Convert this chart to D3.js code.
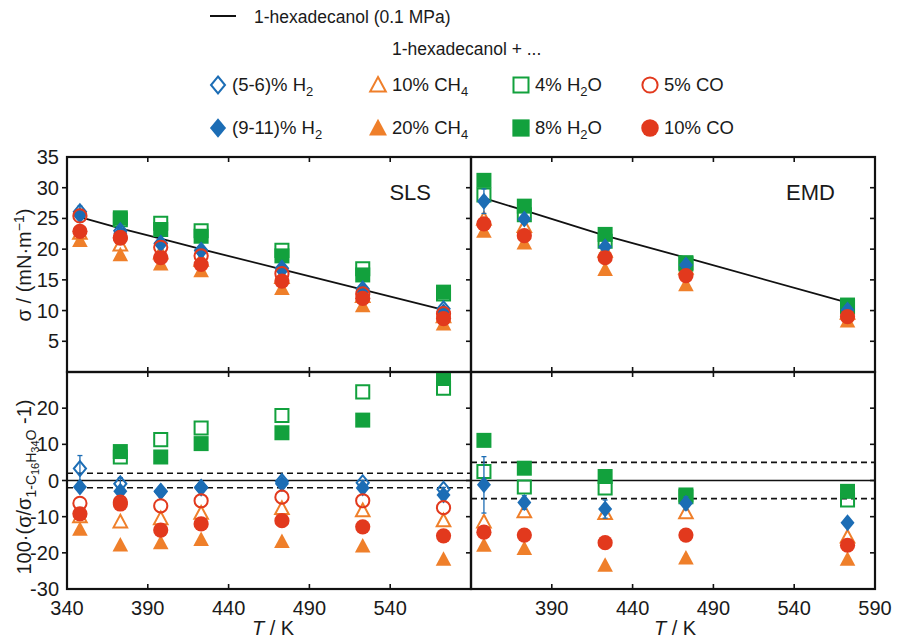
<!DOCTYPE html>
<html>
<head>
<meta charset="utf-8">
<script src="https://cdn.jsdelivr.net/npm/d3@7"></script>
<style>
  body { margin: 0; background: #fff; }
  text { font-family: 'Liberation Sans', Arial, sans-serif; fill: #1a1a1a; }
</style>
</head>
<body>
<svg id="chart" width="899" height="640"></svg>
<script>
// temperatures, K
const slsT = [348, 373, 398, 423, 473, 523, 573]
const emdT = [348, 373, 423, 473, 573]

// pure 1-hexadecanol reference, mN/m
const slsRef = [25.2, 23.4, 21.7, 20.0, 16.7, 13.4, 10.1]
const emdRef = [28.3, 26.3, 22.2, 18.6, 11.3]

// SLS surface tension, mN/m
const slsH2Low = [26.1, 23.0, 20.9, 19.8, 16.9, 13.5, 10.3]
const slsH2LowErr = [0.9, 0.4, 0.2, 0.2, 0.2, 0.2, 0.1]
const slsH2High = [25.5, 22.6, 21.0, 19.7, 16.6, 13.2, 9.8]
const slsCH4Low = [22.6, 20.7, 19.4, 18.2, 15.4, 12.3, 9.0]
const slsCH4High = [21.4, 19.1, 17.6, 16.5, 13.6, 10.8, 7.8]
const slsH2OLow = [null, 24.8, 24.2, 23.0, 19.8, 16.8, 12.7]
const slsH2OHigh = [null, 25.1, 23.2, 22.1, 18.9, 15.8, 13.0]
const slsCOLow = [25.4, 21.9, 20.3, 18.9, 16.0, 12.7, 9.5]
const slsCOHigh = [22.9, 21.8, 18.6, 17.5, 14.8, 12.0, 8.7]

// SLS relative deviation, %
const slsDevH2Low = [3.3, -0.9, -3.0, -2.0, -0.3, -0.6, -2.4]
const slsDevH2LowErr = [3.6, 1.7, 0.6, 0.8, 0.6, 0.6, 0.5]
const slsDevH2High = [-1.8, -3.0, -3.1, -1.8, -0.9, -2.1, -4.0]
const slsDevCH4Low = [-10.0, -11.4, -10.5, -9.0, -7.7, -8.3, -11.1]
const slsDevCH4High = [-13.5, -17.8, -17.2, -16.3, -16.9, -18.1, -21.8]
const slsDevH2OLow = [null, 6.5, 11.3, 14.5, 18.0, 24.5, 25.5]
const slsDevH2OHigh = [null, 8.0, 6.5, 10.2, 13.2, 16.7, 28.2]
const slsDevCOLow = [-6.3, -6.0, -7.0, -5.6, -4.6, -5.6, -7.5]
const slsDevCOHigh = [-9.2, -6.5, -13.7, -12.0, -11.1, -12.8, -15.3]

// EMD surface tension, mN/m
const emdH2High = [27.8, 24.9, 20.4, 17.4, 10.1]
const emdH2HighErr = [2.0, 0.5, 0.6, 0.4, 0.1]
const emdCH4Low = [24.9, 23.7, 19.7, 16.9, 9.6]
const emdCH4High = [22.9, 21.0, 16.7, 14.2, 8.3]
const emdH2OLow = [28.8, 25.6, 21.3, 17.6, 10.6]
const emdH2OHigh = [31.2, 27.0, 22.4, 17.8, 10.9]
const emdCOHigh = [24.1, 22.2, 18.6, 15.7, 9.0]

// EMD relative deviation, %
const emdDevH2High = [-1.2, -6.1, -7.9, -6.3, -11.7]
const emdDevH2HighErr = [7.8, 1.9, 2.5, 1.8, 0.4]
const emdDevCH4Low = [-11.4, -8.6, -9.1, -8.9, -15.6]
const emdDevCH4High = [-17.9, -18.8, -23.4, -21.4, -21.8]
const emdDevH2OLow = [2.5, -1.8, -2.1, -4.5, -5.4]
const emdDevH2OHigh = [11.1, 3.4, 1.1, -4.0, -3.0]
const emdDevCOHigh = [-14.3, -15.1, -17.2, -15.1, -17.9]

const BLUE = '#1c6db5'
const ORANGE = '#ef7f2a'
const GREEN = '#12a13d'
const RED = '#e2391d'

const svg = d3.select('#chart')
const xLeft = d3.scaleLinear().domain([340, 590]).range([67, 471])
const xRight = d3.scaleLinear().domain([340, 590]).range([471, 875])
const yTop = d3.scaleLinear().domain([0, 35]).range([372, 157])
const yBot = d3.scaleLinear().domain([-30, 30]).range([589, 372])

/** path of a marker centred on 0,0 */
function markerPath (shape, filled, scale = 1) {
  const p = d3.path()
  const k = (filled ? 1 : 0.87) * scale
  if (shape === 'diamond') {
    p.moveTo(0, -8.5 * k); p.lineTo(7 * k, 0); p.lineTo(0, 8.5 * k); p.lineTo(-7 * k, 0)
  } else if (shape === 'triangle') {
    p.moveTo(0, -8 * k); p.lineTo(7.8 * k, 6.5 * k); p.lineTo(-7.8 * k, 6.5 * k)
  } else if (shape === 'square') {
    p.rect(-7.5 * k, -7.5 * k, 15 * k, 15 * k)
  } else {
    p.arc(0, 0, 7.6 * k, 0, 2 * Math.PI)
  }
  p.closePath()
  return p.toString()
}

function drawMarker (g, shape, color, filled, x, y, scale = 1) {
  g.append('path')
    .attr('d', markerPath(shape, filled, scale))
    .attr('transform', `translate(${x},${y})`)
    .attr('fill', filled ? color : 'none')
    .attr('stroke', filled ? 'none' : color)
    .attr('stroke-width', 2)
}

/** Draw one panel
  * @param {Object} p panel description (scales, series, lines, labels)
  */
function drawPanel (p) {
  const [x0, x1] = p.x.range()
  const [y1, y0] = p.y.range()
  const id = 'clip' + p.name
  svg.append('clipPath').attr('id', id)
    .append('rect').attr('x', x0).attr('y', y0).attr('width', x1 - x0).attr('height', y1 - y0)
  const g = svg.append('g').attr('clip-path', `url(#${id})`)

  // reference lines
  if (p.zero) {
    g.append('line').attr('x1', x0).attr('x2', x1)
      .attr('y1', p.y(0)).attr('y2', p.y(0))
      .attr('stroke', '#111').attr('stroke-width', 1.6)
    p.band.forEach(v => {
      g.append('line').attr('x1', x0).attr('x2', x1)
        .attr('y1', p.y(v)).attr('y2', p.y(v))
        .attr('stroke', '#111').attr('stroke-width', 1.6).attr('stroke-dasharray', '6,4')
    })
  }
  if (p.ref) {
    g.append('path')
      .datum(p.T.map((t, i) => [t, p.ref[i]]))
      .attr('fill', 'none').attr('stroke', '#111').attr('stroke-width', 1.8)
      .attr('d', d3.line().x(d => p.x(d[0])).y(d => p.y(d[1])))
  }

  p.series.forEach(s => {
    s.values.forEach((v, i) => {
      if (v === null) return
      const cx = p.x(p.T[i])
      const cy = p.y(v)
      if (s.err) {
        const lo = p.y(v - s.err[i])
        const hi = p.y(v + s.err[i])
        g.append('line').attr('x1', cx).attr('x2', cx).attr('y1', lo).attr('y2', hi)
          .attr('stroke', s.color).attr('stroke-width', 1.3)
        ;[lo, hi].forEach(yy => g.append('line')
          .attr('x1', cx - 2.5).attr('x2', cx + 2.5).attr('y1', yy).attr('y2', yy)
          .attr('stroke', s.color).attr('stroke-width', 1.3))
      }
      drawMarker(g, s.shape, s.color, s.filled, cx, cy)
    })
  })

  // frame and ticks
  const fr = svg.append('g').attr('stroke', '#111')
  fr.append('rect').attr('x', x0).attr('y', y0).attr('width', x1 - x0).attr('height', y1 - y0)
    .attr('fill', 'none').attr('stroke-width', 2.2)
  const tl = 5
  ;[390, 440, 490, 540].forEach(t => {
    fr.append('line').attr('x1', p.x(t)).attr('x2', p.x(t)).attr('y1', y0).attr('y2', y0 + tl).attr('stroke-width', 1.6)
    fr.append('line').attr('x1', p.x(t)).attr('x2', p.x(t)).attr('y1', y1).attr('y2', y1 - tl).attr('stroke-width', 1.6)
  })
  p.yTicks.forEach(v => {
    if (p.left) {
      fr.append('line').attr('x1', x0 - tl).attr('x2', x0).attr('y1', p.y(v)).attr('y2', p.y(v)).attr('stroke-width', 1.6)
    }
    fr.append('line').attr('x1', x1).attr('x2', x1 - tl).attr('y1', p.y(v)).attr('y2', p.y(v)).attr('stroke-width', 1.6)
  })

  // tick labels
  if (p.left) {
    p.yLabels.forEach(v => {
      svg.append('text').attr('x', x0 - 8).attr('y', p.y(v) + 7)
        .attr('text-anchor', 'end').attr('font-size', 20).text(v)
    })
  }
  if (p.xLabels) {
    p.xLabels.forEach(t => {
      svg.append('text').attr('x', p.x(t)).attr('y', 615)
        .attr('text-anchor', 'middle').attr('font-size', 20).text(t)
    })
  }
  if (p.title) {
    svg.append('text').attr('x', x1 - 40).attr('y', 200)
      .attr('text-anchor', 'end').attr('font-size', 22).text(p.title)
  }
}

function series (values, shape, color, filled, err) {
  return { values, shape, color, filled, err }
}

drawPanel({
  name: 'slsTop', x: xLeft, y: yTop, T: slsT, ref: slsRef, left: true, title: 'SLS',
  yTicks: [5, 10, 15, 20, 25, 30], yLabels: [5, 10, 15, 20, 25, 30, 35],
  series: [
    series(slsCH4Low, 'triangle', ORANGE, false),
    series(slsCH4High, 'triangle', ORANGE, true),
    series(slsH2OLow, 'square', GREEN, false),
    series(slsH2OHigh, 'square', GREEN, true),
    series(slsH2High, 'diamond', BLUE, true),
    series(slsH2Low, 'diamond', BLUE, false, slsH2LowErr),
    series(slsCOLow, 'circle', RED, false),
    series(slsCOHigh, 'circle', RED, true)
  ]
})
drawPanel({
  name: 'emdTop', x: xRight, y: yTop, T: emdT, ref: emdRef, left: false, title: 'EMD',
  yTicks: [5, 10, 15, 20, 25, 30],
  series: [
    series(emdCH4Low, 'triangle', ORANGE, false),
    series(emdCH4High, 'triangle', ORANGE, true),
    series(emdH2OLow, 'square', GREEN, false),
    series(emdH2OHigh, 'square', GREEN, true),
    series(emdH2High, 'diamond', BLUE, true, emdH2HighErr),
    series(emdCOHigh, 'circle', RED, true)
  ]
})
drawPanel({
  name: 'slsBot', x: xLeft, y: yBot, T: slsT, zero: true, band: [2, -2], left: true,
  yTicks: [-20, -10, 0, 10, 20], yLabels: [-30, -20, -10, 0, 10, 20],
  xLabels: [340, 390, 440, 490, 540],
  series: [
    series(slsDevCH4Low, 'triangle', ORANGE, false),
    series(slsDevCH4High, 'triangle', ORANGE, true),
    series(slsDevH2OLow, 'square', GREEN, false),
    series(slsDevH2OHigh, 'square', GREEN, true),
    series(slsDevH2High, 'diamond', BLUE, true),
    series(slsDevH2Low, 'diamond', BLUE, false, slsDevH2LowErr),
    series(slsDevCOLow, 'circle', RED, false),
    series(slsDevCOHigh, 'circle', RED, true)
  ]
})
drawPanel({
  name: 'emdBot', x: xRight, y: yBot, T: emdT, zero: true, band: [5, -5], left: false,
  yTicks: [-20, -10, 0, 10, 20],
  xLabels: [390, 440, 490, 540, 590],
  series: [
    series(emdDevCH4Low, 'triangle', ORANGE, false),
    series(emdDevCH4High, 'triangle', ORANGE, true),
    series(emdDevH2OLow, 'square', GREEN, false),
    series(emdDevH2OHigh, 'square', GREEN, true),
    series(emdDevH2High, 'diamond', BLUE, true, emdDevH2HighErr),
    series(emdDevCOHigh, 'circle', RED, true)
  ]
})

// axis titles
const yt1 = svg.append('text').attr('font-size', 20).attr('text-anchor', 'middle')
  .attr('transform', 'translate(31,265) rotate(-90)')
yt1.append('tspan').text('σ / (mN·m')
yt1.append('tspan').attr('dy', -7).attr('font-size', 14).text('−1')
yt1.append('tspan').attr('dy', 7).text(')')

const yt2 = svg.append('text').attr('font-size', 20).attr('text-anchor', 'middle')
  .attr('transform', 'translate(31,487) rotate(-90)')
yt2.append('tspan').text('100·(σ/σ')
yt2.append('tspan').attr('dy', 5).attr('font-size', 14).text('1-C')
yt2.append('tspan').attr('dy', 3).attr('font-size', 11).text('16')
yt2.append('tspan').attr('dy', -3).attr('font-size', 14).text('H')
yt2.append('tspan').attr('dy', 3).attr('font-size', 11).text('34')
yt2.append('tspan').attr('dy', -3).attr('font-size', 14).text('O')
yt2.append('tspan').attr('dy', -5).text(' -1)')

;[xLeft, xRight].forEach((x, i) => {
  const t = svg.append('text').attr('x', i === 0 ? 273 : 675).attr('y', 635)
    .attr('text-anchor', 'middle').attr('font-size', 20)
  t.append('tspan').attr('font-style', 'italic').text('T')
  t.append('tspan').text(' / K')
})

// legend
svg.append('line').attr('x1', 210).attr('x2', 236).attr('y1', 16).attr('y2', 16)
  .attr('stroke', '#111').attr('stroke-width', 2)
svg.append('text').attr('x', 254).attr('y', 23).attr('font-size', 17.5).text('1-hexadecanol (0.1 MPa)')
svg.append('text').attr('x', 392).attr('y', 55).attr('font-size', 17.5).text('1-hexadecanol + ...')

const legendItems = [
  { shape: 'diamond', color: BLUE, x: 218, label: ['(5-6)% H', '2', ''], row: 0 },
  { shape: 'triangle', color: ORANGE, x: 378, label: ['10% CH', '4', ''], row: 0 },
  { shape: 'square', color: GREEN, x: 521, label: ['4% H', '2', 'O'], row: 0 },
  { shape: 'circle', color: RED, x: 650, label: ['5% CO', '', ''], row: 0 },
  { shape: 'diamond', color: BLUE, x: 218, label: ['(9-11)% H', '2', ''], row: 1 },
  { shape: 'triangle', color: ORANGE, x: 378, label: ['20% CH', '4', ''], row: 1 },
  { shape: 'square', color: GREEN, x: 521, label: ['8% H', '2', 'O'], row: 1 },
  { shape: 'circle', color: RED, x: 650, label: ['10% CO', '', ''], row: 1 }
]
legendItems.forEach(d => {
  const y = d.row === 0 ? 85 : 128
  drawMarker(svg, d.shape, d.color, d.row === 1, d.x, y, 1.15)
  const t = svg.append('text').attr('x', d.x + 14).attr('y', y + 6).attr('font-size', 18.5)
  t.append('tspan').text(d.label[0])
  if (d.label[1]) t.append('tspan').attr('dy', 5).attr('font-size', 13).text(d.label[1])
  if (d.label[2]) t.append('tspan').attr('dy', -5).text(d.label[2])
})
</script>
</body>
</html>
